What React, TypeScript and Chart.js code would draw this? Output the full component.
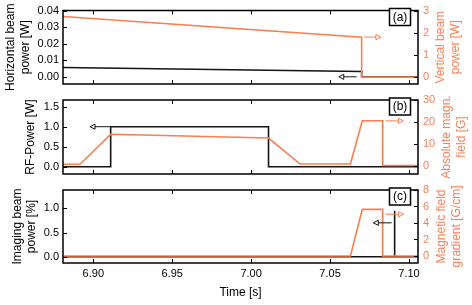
import React, { useEffect, useRef } from "react";
import { Chart, registerables } from "chart.js";
Chart.register(...registerables);

const FONT = '"Liberation Sans", Arial, Helvetica, sans-serif';
const ORANGE = "#fb7d50";
const ORANGE_TEXT = "#f6825a";
const BLACK = "#141414";

// shared time axis
const timeTicks = [6.9, 6.95, 7.0, 7.05, 7.1];
const timeRange = [6.8808, 7.1057];

// ---- panel (a)
const aHorizTime = [6.8808, 7.07, 7.07, 7.1057];
const aHorizPower = [0.0056, 0.0032, 0, 0];
const aVertTime = [6.8808, 7.07, 7.07, 7.1057];
const aVertPower = [2.73, 1.8, 0, 0];
const aLeftTicks = [0, 0.01, 0.02, 0.03, 0.04];
const aRightTicks = [0, 1, 2, 3];
const aLeftRange = [-0.00434, 0.04];
const aRightRange = [-0.311, 3];
// arrows: tail time, head time, value
const aArrowLeft = [7.0668, 7.0555, 0];
const aArrowRight = [7.0716, 7.0822, 1.8];

// ---- panel (b)
const bRfTime = [6.8808, 6.911, 6.911, 7.011, 7.011, 7.1057];
const bRfPower = [0, 0, 1, 1, 0, 0];
const bFieldTime = [6.8808, 6.8916, 6.911, 7.011, 7.031, 7.0629, 7.0704, 7.0833, 7.0833, 7.1057];
const bField = [0.8, 0.8, 14.4, 12.7, 0.9, 0.9, 20.6, 20.6, 0.2, 0.2];
const bLeftTicks = [0, 0.5, 1.0, 1.5];
const bRightTicks = [0, 10, 20, 30];
const bLeftRange = [-0.1825, 1.6675];
const bRightRange = [-3.64, 30];
const bArrowLeft = [6.911, 6.8979, 1.0];
const bArrowRight = [7.085, 7.0964, 20.5];

// ---- panel (c)
const cImgTime = [6.8808, 7.0907, 7.0907, 7.091, 7.091, 7.1057];
const cImgPower = [0, 0, 0.95, 0.95, 0, 0];
const cGradTime = [6.8808, 7.0629, 7.0704, 7.0833, 7.0833, 7.1057];
const cGrad = [0, 0, 5.65, 5.65, 0, 0];
const cLeftTicks = [0, 0.5, 1.0];
const cRightTicks = [0, 2, 4, 6, 8];
const cLeftRange = [-0.13, 1.378];
const cRightRange = [-0.85, 8];
const cArrowLeft = [7.089, 7.0774, 0.7];
const cArrowRight = [7.085, 7.0966, 5.06];

const pts = (xs: number[], ys: number[]) => xs.map((x, i) => ({ x, y: ys[i] }));

const decorPlugin = {
  id: "decor",
  afterDatasetsDraw(chart: any, _args: any, opts: any) {
    const { ctx, chartArea: ca, scales } = chart;
    const x = scales.x, yl = scales.y, yr = scales.y1;
    ctx.save();
    // arrows
    const drawArrow = (a: number[], scale: any, color: string) => {
      const tx = x.getPixelForValue(a[0]);
      const hx = x.getPixelForValue(a[1]);
      const py = scale.getPixelForValue(a[2]);
      const dir = hx > tx ? 1 : -1;
      const hl = 5, hw = 2.6;
      ctx.strokeStyle = color;
      ctx.lineWidth = 1;
      ctx.beginPath();
      ctx.moveTo(tx, py);
      ctx.lineTo(hx - dir * hl, py);
      ctx.stroke();
      ctx.beginPath();
      ctx.moveTo(hx, py);
      ctx.lineTo(hx - dir * hl, py - hw);
      ctx.lineTo(hx - dir * hl, py + hw);
      ctx.closePath();
      ctx.fillStyle = "#fff";
      ctx.fill();
      ctx.stroke();
    };
    drawArrow(opts.arrowLeft, yl, BLACK);
    drawArrow(opts.arrowRight, yr, ORANGE);

    // frame
    ctx.strokeStyle = "#000";
    ctx.lineWidth = 1.5;
    ctx.strokeRect(ca.left, ca.top, ca.right - ca.left, ca.bottom - ca.top);
    // ticks (inward)
    ctx.lineWidth = 1;
    const tl = 4;
    ctx.beginPath();
    timeTicks.forEach((t) => {
      const px = Math.round(x.getPixelForValue(t)) + 0.5;
      ctx.moveTo(px, ca.top);
      ctx.lineTo(px, ca.top + tl);
      ctx.moveTo(px, ca.bottom);
      ctx.lineTo(px, ca.bottom - tl);
    });
    opts.leftTicks.forEach((v: number) => {
      const py = Math.round(yl.getPixelForValue(v)) + 0.5;
      ctx.moveTo(ca.left, py);
      ctx.lineTo(ca.left + tl, py);
    });
    opts.rightTicks.forEach((v: number) => {
      const py = Math.round(yr.getPixelForValue(v)) + 0.5;
      ctx.moveTo(ca.right, py);
      ctx.lineTo(ca.right - tl, py);
    });
    ctx.stroke();

    // tag box
    const bw = 21, bh = 17;
    const bx = ca.right - 28.5, by = ca.top - 2;
    ctx.fillStyle = "#fff";
    ctx.fillRect(bx, by, bw, bh);
    ctx.lineWidth = 1.5;
    ctx.strokeStyle = "#000";
    ctx.strokeRect(bx, by, bw, bh);
    ctx.fillStyle = "#000";
    ctx.font = `12px ${FONT}`;
    ctx.textAlign = "center";
    ctx.textBaseline = "middle";
    ctx.fillText(opts.tag, bx + bw / 2, by + bh / 2 + 0.5);

    // axis titles (rotated, reading bottom to top)
    const cy = (ca.top + ca.bottom) / 2;
    ctx.textAlign = "center";
    ctx.textBaseline = "alphabetic";
    ctx.font = `12px ${FONT}`;
    const drawTitle = (lines: string[], xs: number[], color: string) => {
      ctx.fillStyle = color;
      lines.forEach((txt, i) => {
        ctx.save();
        ctx.translate(xs[i], cy);
        ctx.rotate(-Math.PI / 2);
        ctx.fillText(txt, 0, 0);
        ctx.restore();
      });
    };
    drawTitle(opts.leftTitle, opts.leftTitleX, "#000");
    drawTitle(opts.rightTitle, opts.rightTitleX, ORANGE_TEXT);
    ctx.restore();
  },
};

type PanelCfg = {
  height: number;
  top: number;
  padTop: number;
  padBottom: number;
  showX: boolean;
  leftData: { x: number; y: number }[];
  rightData: { x: number; y: number }[];
  leftTicks: number[];
  rightTicks: number[];
  leftRange: number[];
  rightRange: number[];
  leftDigits: number;
  decor: any;
};

function Panel({ cfg }: { cfg: PanelCfg }) {
  const ref = useRef<HTMLCanvasElement>(null);
  useEffect(() => {
    if (!ref.current) return;
    const chart = new Chart(ref.current, {
      type: "line",
      data: {
        datasets: [
          {
            data: cfg.rightData,
            yAxisID: "y1",
            borderColor: ORANGE,
            borderWidth: 1.6,
            pointRadius: 0,
            tension: 0,
            fill: false,
          },
          {
            data: cfg.leftData,
            yAxisID: "y",
            borderColor: BLACK,
            borderWidth: 1.6,
            pointRadius: 0,
            tension: 0,
            fill: false,
          },
        ],
      },
      options: {
        responsive: false,
        maintainAspectRatio: false,
        animation: false,
        devicePixelRatio: 1,
        layout: { padding: { top: cfg.padTop, bottom: cfg.padBottom, left: 0, right: 0 } },
        plugins: {
          legend: { display: false },
          tooltip: { enabled: false },
          decor: cfg.decor,
        } as any,
        scales: {
          x: {
            type: "linear",
            min: timeRange[0],
            max: timeRange[1],
            display: cfg.showX,
            grid: { display: false, drawTicks: false, tickLength: 0 },
            border: { display: false },
            afterBuildTicks: (s: any) => {
              s.ticks = timeTicks.map((v) => ({ value: v }));
            },
            afterFit: (s: any) => {
              s.height = cfg.showX ? 42 : 0;
              s.paddingLeft = 0;
              s.paddingRight = 0;
            },
            ticks: {
              padding: 4,
              color: "#000",
              font: { family: FONT, size: 11 },
              maxRotation: 0,
              autoSkip: false,
              callback: (v: any) => Number(v).toFixed(2),
            },
            title: {
              display: true,
              text: "Time [s]",
              color: "#000",
              font: { family: FONT, size: 12 },
              padding: { top: 0, bottom: 5 },
            },
          },
          y: {
            type: "linear",
            position: "left",
            min: cfg.leftRange[0],
            max: cfg.leftRange[1],
            grid: { display: false, drawTicks: false, tickLength: 0 },
            border: { display: false },
            afterBuildTicks: (s: any) => {
              s.ticks = cfg.leftTicks.map((v) => ({ value: v }));
            },
            afterFit: (s: any) => {
              s.width = 63;
              s.paddingTop = 0;
              s.paddingBottom = 0;
            },
            ticks: {
              padding: 4,
              color: "#000",
              font: { family: FONT, size: 11 },
              autoSkip: false,
              callback: (v: any) => Number(v).toFixed(cfg.leftDigits),
            },
          },
          y1: {
            type: "linear",
            position: "right",
            min: cfg.rightRange[0],
            max: cfg.rightRange[1],
            grid: { display: false, drawTicks: false, tickLength: 0 },
            border: { display: false },
            afterBuildTicks: (s: any) => {
              s.ticks = cfg.rightTicks.map((v) => ({ value: v }));
            },
            afterFit: (s: any) => {
              s.width = 54;
              s.paddingTop = 0;
              s.paddingBottom = 0;
            },
            ticks: {
              padding: 5,
              color: ORANGE_TEXT,
              font: { family: FONT, size: 11 },
              autoSkip: false,
              callback: (v: any) => String(Math.round(Number(v))),
            },
          },
        },
      } as any,
      plugins: [decorPlugin],
    });
    return () => chart.destroy();
  }, [cfg]);
  return (
    <canvas
      ref={ref}
      width={472}
      height={cfg.height}
      style={{ position: "absolute", left: 0, top: cfg.top, width: 472, height: cfg.height }}
    />
  );
}

const panels: PanelCfg[] = [
  {
    height: 90,
    top: 0,
    padTop: 10.5,
    padBottom: 6,
    showX: false,
    leftData: pts(aHorizTime, aHorizPower),
    rightData: pts(aVertTime, aVertPower),
    leftTicks: aLeftTicks,
    rightTicks: aRightTicks,
    leftRange: aLeftRange,
    rightRange: aRightRange,
    leftDigits: 2,
    decor: {
      tag: "(a)",
      arrowLeft: aArrowLeft,
      arrowRight: aArrowRight,
      leftTicks: aLeftTicks,
      rightTicks: aRightTicks,
      leftTitle: ["Horizontal beam", "power [W]"],
      leftTitleX: [13.5, 28.5],
      rightTitle: ["Vertical beam", "power [W]"],
      rightTitleX: [443.5, 458.5],
    },
  },
  {
    height: 90,
    top: 90,
    padTop: 10,
    padBottom: 6,
    showX: false,
    leftData: pts(bRfTime, bRfPower),
    rightData: pts(bFieldTime, bField),
    leftTicks: bLeftTicks,
    rightTicks: bRightTicks,
    leftRange: bLeftRange,
    rightRange: bRightRange,
    leftDigits: 1,
    decor: {
      tag: "(b)",
      arrowLeft: bArrowLeft,
      arrowRight: bArrowRight,
      leftTicks: bLeftTicks,
      rightTicks: bRightTicks,
      leftTitle: ["RF-Power [W]"],
      leftTitleX: [33.5],
      rightTitle: ["Absolute magn.", "field [G]"],
      rightTitleX: [450, 465],
    },
  },
  {
    height: 125,
    top: 180,
    padTop: 10,
    padBottom: 0,
    showX: true,
    leftData: pts(cImgTime, cImgPower),
    rightData: pts(cGradTime, cGrad),
    leftTicks: cLeftTicks,
    rightTicks: cRightTicks,
    leftRange: cLeftRange,
    rightRange: cRightRange,
    leftDigits: 1,
    decor: {
      tag: "(c)",
      arrowLeft: cArrowLeft,
      arrowRight: cArrowRight,
      leftTicks: cLeftTicks,
      rightTicks: cRightTicks,
      leftTitle: ["Imaging beam", "power [%]"],
      leftTitleX: [21, 35],
      rightTitle: ["Magnetic field", "gradient [G/cm]"],
      rightTitleX: [444.5, 460],
    },
  },
];

export default function App() {
  return (
    <div style={{ position: "absolute", left: 0, top: 0, width: 472, height: 305, background: "#fff" }}>
      {panels.map((p, i) => (
        <Panel key={i} cfg={p} />
      ))}
    </div>
  );
}
